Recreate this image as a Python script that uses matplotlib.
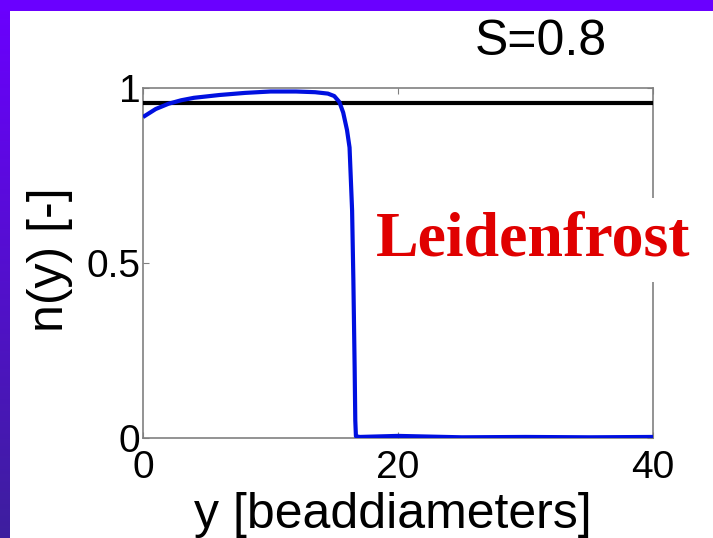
import numpy as np
import matplotlib
matplotlib.use('Agg')
import matplotlib.pyplot as plt
from matplotlib.patches import Rectangle

# n(y) profile for S=0.8
y_pos = [0, 1, 2, 3, 4, 6, 8, 10, 12, 13.5, 14.5, 15.0, 15.4, 15.7, 16.0, 16.2,
         16.4, 16.5, 16.6, 16.65, 16.7, 17, 18, 20, 25, 30, 35, 40]
n_val = [0.917, 0.94, 0.955, 0.965, 0.972, 0.98, 0.986, 0.99, 0.99, 0.988, 0.984,
         0.977, 0.96, 0.93, 0.88, 0.83, 0.65, 0.45, 0.2, 0.05, 0.005, 0.003,
         0.004, 0.006, 0.002, 0.003, 0.002, 0.003]
n_ref = 0.957

x_ticks = [0, 20, 40]
y_ticks = [0, 0.5, 1]
y_ticklabels = ['0', '0.5', '1']

W, H = 713, 538
fig = plt.figure(figsize=(W / 100, H / 100), dpi=100)
fig.patch.set_facecolor('white')

# slide frame: violet strip on top, gradient strip on the left
bg = fig.add_axes([0, 0, 1, 1], zorder=-10)
bg.set_xlim(0, W)
bg.set_ylim(H, 0)
bg.axis('off')
grad = np.linspace(0, 1, 256)[:, None]
top_c = np.array([0.42, 0.0, 1.0])
bot_c = np.array([0.24, 0.12, 0.62])
img = top_c[None, None, :] * (1 - grad[:, :, None]) + bot_c[None, None, :] * grad[:, :, None]
bg.imshow(img, extent=[0, 10, H, 0], aspect='auto')
bg.add_patch(Rectangle((0, 0), W, 11, color='#6a00ff', lw=0))

ax = fig.add_axes([143 / W, 1 - 438 / H, 510 / W, 350 / H])
ax.plot([0, 40], [n_ref, n_ref], color='black', lw=3, zorder=3)
ax.plot(y_pos, n_val, color='#0010e0', lw=3, zorder=4, solid_capstyle='butt')
ax.set_xlim(0, 40)
ax.set_ylim(0, 1)

tfont = dict(family='Liberation Sans', size=28)
lfont = dict(family='Liberation Sans', size=36)
ax.set_xticks(x_ticks)
ax.set_xticklabels([str(t) for t in x_ticks], fontdict=tfont)
ax.set_yticks(y_ticks)
ax.set_yticklabels(y_ticklabels, fontdict=tfont)
ax.tick_params(direction='in', length=4, color='#808080', top=True, right=True)
ax.tick_params(axis='x', pad=9)
ax.tick_params(axis='y', pad=2)
for s in ax.spines.values():
    s.set_color('#808080')
    s.set_linewidth(1.2)

ax.set_xlabel('y [beaddiameters]', fontdict=lfont)
ax.xaxis.set_label_coords(0.489, -0.22)
ax.xaxis.label.set_va('center')
ax.set_ylabel('n(y) [-]', fontdict=lfont)
ax.yaxis.set_label_coords(-0.182, 0.51)
ax.yaxis.label.set_va('center')

fig.text(541 / W, 1 - 42 / H, 'S=0.8', ha='center', va='center', **lfont)

ax.text(533 / W, 1 - 240 / H, 'Leidenfrost', transform=fig.transFigure,
        ha='center', va='center', color='#e00000', fontsize=46,
        family='Liberation Serif', fontweight='bold', zorder=10,
        bbox=dict(boxstyle='square,pad=0.2', facecolor='white', edgecolor='none'))

fig.savefig('out.png', dpi=100)
